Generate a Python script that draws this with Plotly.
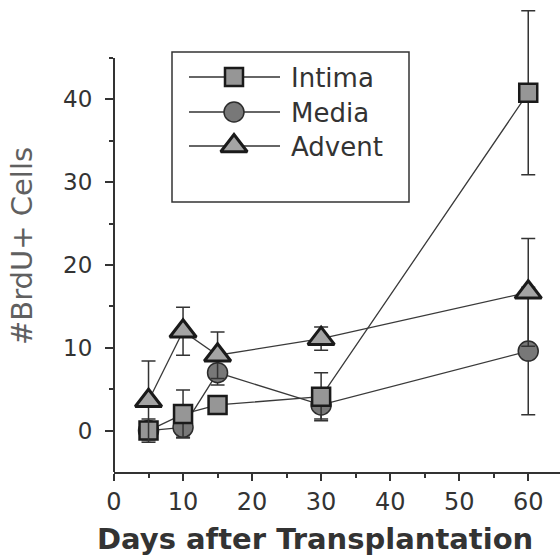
import plotly.graph_objects as go

# Days after transplantation
days = [5, 10, 15, 30, 60]

# Mean BrdU+ cell counts per vessel layer, with error bar half-widths
intima = [0.0, 2.0, 3.1, 4.1, 40.8]
intima_err = [1.4, 2.9, 0.5, 2.9, 9.9]
media = [0.0, 0.4, 7.0, 3.1, 9.6]
media_err = [0.6, 1.2, 1.5, 1.7, 7.7]
advent = [3.6, 12.0, 9.1, 11.1, 16.7]
advent_err = [4.8, 2.9, 2.8, 1.4, 6.5]

series_names = ["Intima", "Media", "Advent"]
x_ticks = [0, 10, 20, 30, 40, 50, 60]
y_ticks = [0, 10, 20, 30, 40]

FONT = "DejaVu Sans"
INK = "#333333"

# plot-area geometry in page pixels (used for the hand-built legend and titles)
L, R, T, B = 114, 560, 0, 472
W, H = 560, 556


def px(x):
    return (x - L) / (R - L)


def py(y):
    return (B - y) / (B - T)


styles = {
    "Intima": dict(symbol="square", size=18, color="#969696",
                   line=dict(color="#1a1a1a", width=2.5)),
    "Media": dict(symbol="circle", size=20, color="#787878",
                  line=dict(color="#2c2c2c", width=1.5)),
    "Advent": dict(symbol="triangle-up", size=23, color="#a4a4a4",
                   line=dict(color="#1a1a1a", width=3)),
}

fig = go.Figure()

# draw order: media, intima, then adventitia on top
for name, vals, errs in [("Media", media, media_err),
                         ("Intima", intima, intima_err),
                         ("Advent", advent, advent_err)]:
    fig.add_trace(go.Scatter(
        x=days, y=vals, name=name, mode="lines+markers",
        line=dict(color="#3a3a3a", width=1.3),
        marker=styles[name],
        error_y=dict(type="data", array=errs, visible=True,
                     color=INK, thickness=1.5, width=7),
        cliponaxis=False,
    ))

# legend samples on a pixel-scaled helper axis
legend_rows = {"Intima": 77, "Media": 112, "Advent": 146}
for name in series_names:
    yy = legend_rows[name]
    fig.add_trace(go.Scatter(
        x=[189, 280], y=[yy, yy], mode="lines", xaxis="x2", yaxis="y2",
        line=dict(color=INK, width=1.5), hoverinfo="skip",
    ))
    fig.add_trace(go.Scatter(
        x=[234], y=[yy], mode="markers", xaxis="x2", yaxis="y2",
        marker=styles[name], hoverinfo="skip",
    ))

text_rows = {"Intima": 78, "Media": 113, "Advent": 147}
annotations = []
for name in series_names:
    annotations.append(dict(
        x=px(289), y=py(text_rows[name]), xref="paper", yref="paper",
        text=name, showarrow=False, xanchor="left", yanchor="middle",
        font=dict(family=FONT, size=26, color=INK),
    ))

# axis titles
annotations.append(dict(
    x=px(315), y=py(539), xref="paper", yref="paper",
    text="Days after Transplantation", showarrow=False,
    xanchor="center", yanchor="middle",
    font=dict(family=FONT, size=29, color=INK, weight="bold"),
))
annotations.append(dict(
    x=px(22), y=py(246), xref="paper", yref="paper",
    text="#BrdU+ Cells", showarrow=False, textangle=-90,
    xanchor="center", yanchor="middle",
    font=dict(family=FONT, size=29, color="#606060"),
))

shapes = [
    # legend frame
    dict(type="rect", xref="paper", yref="paper",
         x0=px(172), x1=px(409), y0=py(52), y1=py(202),
         line=dict(color=INK, width=1.5), fillcolor="rgba(0,0,0,0)"),
    # left axis line, stopping at 45
    dict(type="line", xref="paper", yref="y", x0=0, x1=0, y0=-5, y1=45,
         line=dict(color=INK, width=2)),
]

fig.update_layout(
    width=W, height=H,
    margin=dict(l=L, r=W - R, t=T, b=H - B),
    paper_bgcolor="white", plot_bgcolor="rgba(0,0,0,0)",
    showlegend=False,
    annotations=annotations,
    shapes=shapes,
    xaxis=dict(
        range=[0, 64.6], tickmode="array", tickvals=x_ticks,
        ticks="outside", ticklen=7, tickwidth=2, tickcolor=INK,
        showline=True, linewidth=2, linecolor=INK,
        showgrid=False, zeroline=False,
        tickfont=dict(family=FONT, size=24, color=INK),
        minor=dict(tickmode="array", tickvals=[5, 15, 25, 35, 45, 55],
                   ticks="outside", ticklen=4, tickwidth=2,
                   tickcolor=INK, showgrid=False),
    ),
    yaxis=dict(
        range=[-5, 52], tickmode="array", tickvals=y_ticks,
        ticks="outside", ticklen=8, tickwidth=2, tickcolor=INK,
        showline=False, showgrid=False, zeroline=False,
        ticklabelstandoff=8,
        tickfont=dict(family=FONT, size=23, color=INK),
        minor=dict(tickmode="array", tickvals=[5, 15, 25, 35, 45],
                   ticks="outside", ticklen=4, tickwidth=2,
                   tickcolor=INK, showgrid=False),
    ),
    xaxis2=dict(domain=[0, 1], range=[L, R], visible=False, anchor="y2"),
    yaxis2=dict(domain=[0, 1], range=[B, T], visible=False, anchor="x2"),
)

fig.write_html("out.html")
